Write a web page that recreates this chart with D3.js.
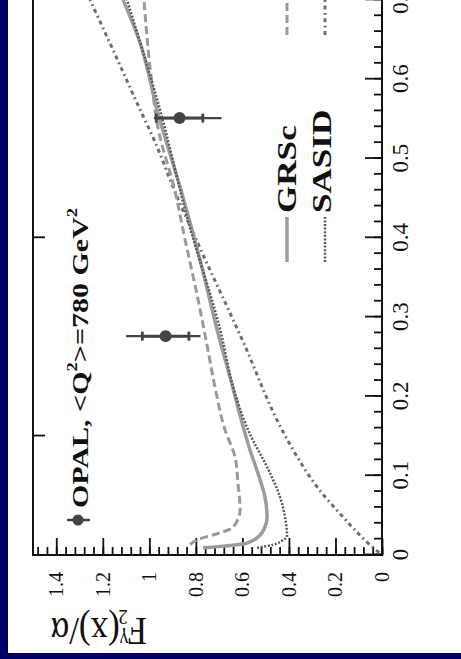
<!DOCTYPE html>
<html>
<head>
<meta charset="utf-8">
<script src="https://cdn.jsdelivr.net/npm/d3@7"></script>
<style>
  body { margin: 0; background: #000066; }
  svg { display: block; }
  text { font-family: "Liberation Serif", "DejaVu Serif", serif; fill: #111; }
</style>
</head>
<body>
<div id="chart"></div>
<script>
// model curves: x and F2/alpha
var grscX  = [0.009, 0.015, 0.028, 0.048, 0.073, 0.103, 0.132, 0.158, 0.224, 0.280, 0.372, 0.451, 0.557, 0.646, 0.700];
var grscF2 = [0.769, 0.580, 0.516, 0.494, 0.503, 0.533, 0.567, 0.593, 0.653, 0.705, 0.782, 0.855, 0.963, 1.040, 1.113];

var sasX  = [0.009, 0.013, 0.019, 0.023, 0.048, 0.073, 0.103, 0.158, 0.212, 0.280, 0.426, 0.557, 0.700];
var sasF2 = [0.537, 0.468, 0.425, 0.408, 0.417, 0.438, 0.481, 0.576, 0.640, 0.692, 0.838, 0.950, 1.096];

var dashX  = [0.013, 0.019, 0.028, 0.035, 0.057, 0.091, 0.124, 0.158, 0.212, 0.271, 0.334, 0.397, 0.464, 0.532, 0.615, 0.700];
var dashF2 = [0.825, 0.795, 0.696, 0.640, 0.610, 0.619, 0.632, 0.675, 0.718, 0.756, 0.799, 0.846, 0.894, 0.958, 0.997, 1.023];

var ddX  = [0.003, 0.013, 0.048, 0.086, 0.124, 0.158, 0.271, 0.376, 0.464, 0.515, 0.570, 0.637, 0.700];
var ddF2 = [0.012, 0.052, 0.168, 0.279, 0.365, 0.430, 0.600, 0.765, 0.898, 0.967, 1.053, 1.156, 1.255];

// OPAL points
var opalX  = [0.276, 0.551];
var opalF2 = [0.93, 0.87];
var statLo = [0.83, 0.77];
var statHi = [1.03, 0.97];
var totLo  = [0.78, 0.69];
var totHi  = [1.10, 0.98];

var xTicks = [0, 0.1, 0.2, 0.3, 0.4, 0.5, 0.6, 0.7];
var yTicks = [0, 0.2, 0.4, 0.6, 0.8, 1, 1.2, 1.4];

var width = 461, height = 659;
var plotW = 793, plotH = 349;   // unrotated plot size
var stretch = 1.25;             // text in the scan is drawn wider than tall

var svg = d3.select('#chart').append('svg')
  .attr('width', width).attr('height', height);
svg.append('rect').attr('width', width).attr('height', height).attr('fill', '#000066');
svg.append('rect').attr('x', 8).attr('y', 0).attr('width', width - 8).attr('height', 653).attr('fill', '#fff');

// the whole figure is turned a quarter turn to the left
var g = svg.append('g').attr('transform', 'translate(33,555) rotate(-90)');

var x = d3.scaleLinear().domain([0, 1]).range([0, plotW]);
var y = d3.scaleLinear().domain([0, 1.5]).range([plotH, 0]);

function fmt(d) { return d === 0 ? '0' : d3.format('.1f')(d).replace(/\.0$/, ''); }

// minor ticks
g.append('g').attr('transform', 'translate(0,' + plotH + ')')
  .call(d3.axisBottom(x).tickValues(d3.range(0, 51).map(function(i) { return i * 0.02; })).tickSize(-8).tickFormat(''));
g.append('g')
  .call(d3.axisLeft(y).tickValues(d3.range(0, 38).map(function(i) { return i * 0.04; })).tickSize(-8).tickFormat(''));
// major ticks
var xAxis = g.append('g').attr('transform', 'translate(0,' + plotH + ')')
  .call(d3.axisBottom(x).tickValues(xTicks).tickSize(-17).tickPadding(10).tickFormat(fmt));
var yAxis = g.append('g')
  .call(d3.axisLeft(y).tickValues(yTicks).tickSize(-17).tickPadding(17).tickFormat(fmt));
// ticks on the opposite frame side
g.append('g')
  .call(d3.axisTop(x).tickValues([0.15, 0.4]).tickSize(-12).tickFormat(''));

g.selectAll('.domain').remove();
g.selectAll('.tick line').attr('stroke', '#111').attr('stroke-width', 1.8);
g.selectAll('.tick text').attr('fill', '#111').style('font-family', '"Liberation Serif", serif');
xAxis.selectAll('.tick text').attr('font-size', 23);
yAxis.selectAll('.tick text').attr('font-size', 20);

// frame
g.append('path')
  .attr('d', 'M' + plotW + ',0H0V' + plotH + 'H' + plotW)
  .attr('fill', 'none').attr('stroke', '#111').attr('stroke-width', 2);

// y axis title (reads upside down once turned)
var yt = g.append('text')
  .attr('transform', 'translate(-63,66) rotate(-90) scale(1,1.15)')
  .attr('text-anchor', 'middle')
  .attr('font-size', 35);
yt.append('tspan').text('F');
yt.append('tspan').attr('font-size', 19).attr('dy', 7).text('2');
yt.append('tspan').attr('font-size', 19).attr('dx', -10).attr('dy', -20).text('γ');
yt.append('tspan').attr('dy', 13).text('(x)/α');

// curves
function curve(xs, ys) {
  return d3.line()
    .x(function(d, i) { return x(xs[i]); })
    .y(function(d, i) { return y(ys[i]); })
    .curve(d3.curveMonotoneX)(xs);
}
var styles = [
  { xs: ddX,   ys: ddF2,   stroke: '#6e6e6e', w: 3,   dash: '4,3.5,1.8,3.5' },
  { xs: dashX, ys: dashF2, stroke: '#9a9a9a', w: 3,   dash: '8,4' },
  { xs: grscX, ys: grscF2, stroke: '#9c9c9c', w: 3.5, dash: null },
  { xs: sasX,  ys: sasF2,  stroke: '#5a5a5a', w: 2.5, dash: '2,1.6' }
];
styles.forEach(function(s) {
  g.append('path')
    .attr('d', curve(s.xs, s.ys))
    .attr('fill', 'none')
    .attr('stroke', s.stroke)
    .attr('stroke-width', s.w)
    .attr('stroke-dasharray', s.dash);
});

// OPAL data with error bars
var pts = g.append('g');
opalX.forEach(function(xv, i) {
  var u = x(xv);
  pts.append('line').attr('x1', u).attr('x2', u)
    .attr('y1', y(totLo[i])).attr('y2', y(totHi[i]))
    .attr('stroke', '#444').attr('stroke-width', 2.2);
  pts.append('line').attr('x1', u).attr('x2', u)
    .attr('y1', y(statLo[i])).attr('y2', y(statHi[i]))
    .attr('stroke', '#444').attr('stroke-width', 3);
  [statLo[i], statHi[i]].forEach(function(s) {
    pts.append('line').attr('x1', u - 4.5).attr('x2', u + 4.5)
      .attr('y1', y(s)).attr('y2', y(s))
      .attr('stroke', '#444').attr('stroke-width', 2.8);
  });
  pts.append('circle').attr('cx', u).attr('cy', y(opalF2[i])).attr('r', 6).attr('fill', '#444');
});

// title entry
g.append('line').attr('x1', 35).attr('x2', 35).attr('y1', 34).attr('y2', 57)
  .attr('stroke', '#444').attr('stroke-width', 2.5);
g.append('circle').attr('cx', 35).attr('cy', 45).attr('r', 5.5).attr('fill', '#444');
var tt = g.append('text').attr('transform', 'translate(47,55) scale(' + stretch + ',1)')
  .attr('font-size', 24).attr('font-weight', 'bold');
tt.append('tspan').text('OPAL, <Q');
tt.append('tspan').attr('font-size', 15).attr('dy', -11).text('2');
tt.append('tspan').attr('dy', 11).text('>=780 GeV');
tt.append('tspan').attr('font-size', 15).attr('dy', -11).text('2');

// legend
var leg = [
  { u0: 293, v: 254, stroke: '#9c9c9c', w: 3.5, dash: null,            label: 'GRSc',  tv: 263 },
  { u0: 293, v: 292, stroke: '#5a5a5a', w: 2.5, dash: '2,1.6',         label: 'SASID', tv: 298 },
  { u0: 520, v: 254, stroke: '#9a9a9a', w: 3,   dash: '8,4',           label: null },
  { u0: 520, v: 292, stroke: '#6e6e6e', w: 3,   dash: '4,3.5,1.8,3.5', label: null }
];
leg.forEach(function(l) {
  g.append('line').attr('x1', l.u0).attr('x2', l.u0 + 45)
    .attr('y1', l.v).attr('y2', l.v)
    .attr('stroke', l.stroke).attr('stroke-width', l.w).attr('stroke-dasharray', l.dash);
  if (l.label) {
    g.append('text').attr('transform', 'translate(' + (l.u0 + 49) + ',' + l.tv + ') scale(1.3,1)')
      .attr('font-size', 27).attr('font-weight', 'bold').text(l.label);
  }
});
</script>
</body>
</html>
